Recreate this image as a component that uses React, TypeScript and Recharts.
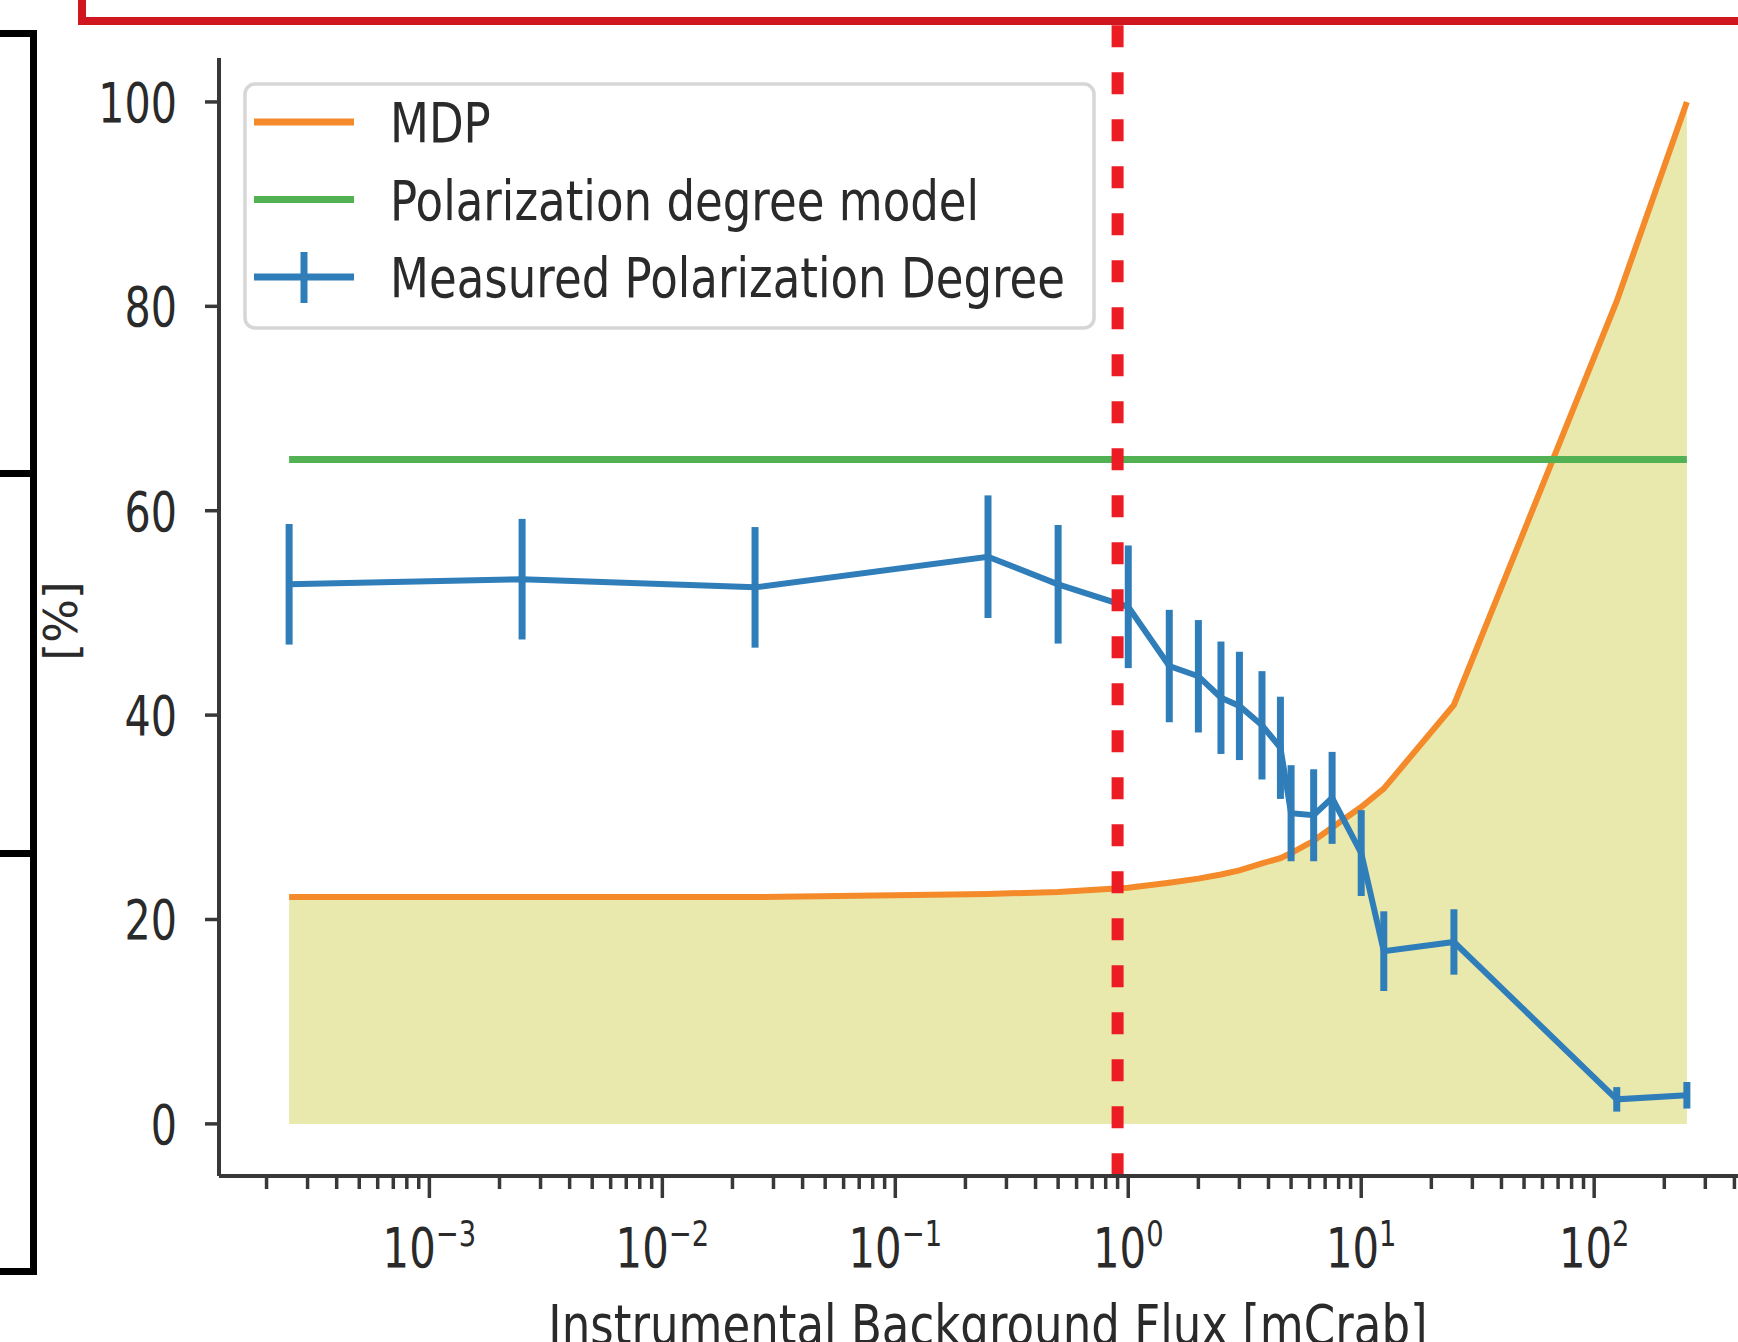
import { ComposedChart, Area, Line, XAxis, YAxis, ErrorBar, ReferenceLine, Legend } from 'recharts';

// flux values [mCrab] of the simulated points
const flux = [0.00025, 0.0025, 0.025, 0.25, 0.5, 1, 1.5, 2, 2.5, 3, 3.75, 4.5, 5, 6.25, 7.5, 10, 12.5, 25, 125, 250];
const mdp = [22.2, 22.2, 22.2, 22.5, 22.7, 23.1, 23.6, 24.0, 24.4, 24.8, 25.5, 26.0, 26.5, 27.7, 29.0, 31.0, 32.8, 41.0, 80.5, 100];
const modelPd = [65, 65, 65, 65, 65, 65, 65, 65, 65, 65, 65, 65, 65, 65, 65, 65, 65, 65, 65, 65];
const measPd = [52.8, 53.3, 52.5, 55.5, 52.8, 50.6, 44.8, 43.8, 41.7, 40.9, 39.0, 36.8, 30.4, 30.2, 31.9, 26.5, 16.9, 17.8, 2.4, 2.8];
const measErr = [5.9, 5.9, 5.9, 6.0, 5.8, 6.0, 5.5, 5.5, 5.5, 5.3, 5.3, 5.0, 4.7, 4.5, 4.5, 4.2, 3.9, 3.2, 1.2, 1.3];

const majorTicks = [0.001, 0.01, 0.1, 1, 10, 100];
const minorTicks = [
  0.0002, 0.0003, 0.0004, 0.0005, 0.0006, 0.0007, 0.0008, 0.0009,
  0.002, 0.003, 0.004, 0.005, 0.006, 0.007, 0.008, 0.009,
  0.02, 0.03, 0.04, 0.05, 0.06, 0.07, 0.08, 0.09,
  0.2, 0.3, 0.4, 0.5, 0.6, 0.7, 0.8, 0.9,
  2, 3, 4, 5, 6, 7, 8, 9,
  20, 30, 40, 50, 60, 70, 80, 90,
  200, 300, 400,
];
const yTicks = [0, 20, 40, 60, 80, 100];
const legendOrder = ['mdp', 'model', 'pd'];

// where the dashed marker sits
const markerFlux = 0.9;

const data = flux.map((f, i) => ({
  flux: f,
  mdp: mdp[i],
  model: modelPd[i],
  pd: measPd[i],
  err: measErr[i],
}));

const font = '"DejaVu Sans", sans-serif';
const axisColor = '#383838';
const textColor = '#2a2a2a';
const orange = '#f48a2a';
const green = '#52b152';
const blue = '#2f7db9';
const areaFill = '#e9e9ad';

const xDomain = [1.25e-4, 500];
const yDomain = [-5.1, 104.3];

const XTick = (props: any) => {
  const { x, y, payload } = props;
  const v = payload.value;
  const major = majorTicks.includes(v);
  const exp = Math.round(Math.log10(v));
  return (
    <g>
      <line x1={x} y1={y} x2={x} y2={y + (major ? 22 : 13)} stroke={axisColor} strokeWidth={3.5} />
      {major && (
        <text
          transform={`translate(${x},${y + 91}) scale(0.76,1)`}
          textAnchor="middle"
          fontSize={55}
          fill={textColor}
          fontFamily={font}
        >
          10
          <tspan fontSize={36} dy={-21}>
            {exp < 0 ? `\u2212${-exp}` : `${exp}`}
          </tspan>
        </text>
      )}
    </g>
  );
};

const YTick = (props: any) => {
  const { x, y, payload } = props;
  return (
    <text
      transform={`translate(${x},${y + 20}) scale(0.75,1)`}
      textAnchor="end"
      fontSize={55}
      fill={textColor}
      fontFamily={font}
    >
      {payload.value}
    </text>
  );
};

const YLabel = (props: any) => {
  const { viewBox } = props;
  const cy = viewBox.y + viewBox.height / 2 + 4;
  return (
    <text
      transform={`translate(${viewBox.x + 77},${cy}) rotate(-90)`}
      textAnchor="middle"
      fontSize={46}
      fill={textColor}
      fontFamily={font}
    >
      [%]
    </text>
  );
};

const XLabel = (props: any) => {
  const { viewBox } = props;
  return (
    <text
      transform={`translate(${viewBox.x + viewBox.width / 2},${viewBox.y + 168}) scale(0.82,1)`}
      textAnchor="middle"
      fontSize={55}
      fill={textColor}
      fontFamily={font}
    >
      Instrumental Background Flux [mCrab]
    </text>
  );
};

const LegendBox = (props: any) => {
  const items = (props.payload || [])
    .filter((it: any) => it.type !== 'none' && it.color !== areaFill && legendOrder.includes(it.dataKey))
    .sort((a: any, b: any) => legendOrder.indexOf(a.dataKey) - legendOrder.indexOf(b.dataKey));
  return (
    <svg width={860} height={270} style={{ display: 'block', overflow: 'visible' }}>
      <rect x={2} y={2} width={849} height={244} rx={10} fill="#fff" fillOpacity={0.8} stroke="#d6d6d6" strokeWidth={3.5} />
      {items.map((it: any, i: number) => {
        const cy = 40 + i * 77.5;
        return (
          <g key={it.value}>
            <line x1={11} y1={cy} x2={111} y2={cy} stroke={it.color} strokeWidth={7} />
            {it.dataKey === 'pd' && (
              <line x1={61} y1={cy - 25} x2={61} y2={cy + 26} stroke={it.color} strokeWidth={7} />
            )}
            <text
              transform={`translate(147,${cy + 20}) scale(0.82,1)`}
              fontSize={55}
              fill={textColor}
              fontFamily={font}
            >
              {it.value}
            </text>
          </g>
        );
      })}
    </svg>
  );
};

const App = () => {
  return (
    <div
      style={{
        position: 'fixed',
        left: 0,
        top: 0,
        width: 1738,
        height: 1342,
        overflow: 'hidden',
        background: '#fff',
      }}
    >
      <ComposedChart width={1800} height={1342} data={data} margin={{ top: 58, right: 43, bottom: 0, left: 0 }}>
        <XAxis
          dataKey="flux"
          type="number"
          scale="log"
          domain={xDomain}
          allowDataOverflow
          ticks={[...minorTicks, ...majorTicks]}
          interval={0}
          tick={<XTick />}
          tickLine={false}
          tickSize={0}
          tickMargin={0}
          height={166}
          axisLine={{ stroke: axisColor, strokeWidth: 4 }}
          label={<XLabel />}
        />
        <XAxis
          xAxisId="top"
          orientation="top"
          type="number"
          scale="log"
          domain={xDomain}
          allowDataOverflow
          height={0}
          tick={false}
          tickLine={false}
          axisLine={{ stroke: axisColor, strokeWidth: 4 }}
        />
        <YAxis
          type="number"
          domain={yDomain}
          allowDataOverflow
          ticks={yTicks}
          interval={0}
          width={219}
          tickSize={14}
          tickMargin={28}
          tick={<YTick />}
          tickLine={{ stroke: axisColor, strokeWidth: 3.5 }}
          axisLine={{ stroke: axisColor, strokeWidth: 4 }}
          label={<YLabel />}
        />
        <Legend
          layout="horizontal"
          verticalAlign="middle"
          align="center"
          content={<LegendBox />}
          wrapperStyle={{ left: 243, top: 82, width: 860, height: 270 }}
        />
        <Area
          type="linear"
          dataKey="mdp"
          baseValue={0}
          stroke="none"
          fill={areaFill}
          fillOpacity={1}
          legendType="none"
          dot={false}
          activeDot={false}
          isAnimationActive={false}
        />
        <Line
          type="linear"
          dataKey="mdp"
          name="MDP"
          stroke={orange}
          strokeWidth={6}
          dot={false}
          activeDot={false}
          isAnimationActive={false}
        />
        <Line
          type="linear"
          dataKey="model"
          name="Polarization degree model"
          stroke={green}
          strokeWidth={7}
          dot={false}
          activeDot={false}
          isAnimationActive={false}
        />
        <Line
          type="linear"
          dataKey="pd"
          name="Measured Polarization Degree"
          stroke={blue}
          strokeWidth={6}
          dot={false}
          activeDot={false}
          isAnimationActive={false}
        >
          <ErrorBar dataKey="err" direction="y" width={0} stroke={blue} strokeWidth={7} isAnimationActive={false} />
        </Line>
        <ReferenceLine
          segment={[
            { x: markerFlux, y: 107.5 },
            { x: markerFlux, y: -5.5 },
          ]}
          ifOverflow="visible"
          stroke="#ec1c24"
          strokeWidth={12}
          strokeDasharray="22 25"
        />
      </ComposedChart>
      {/* red frame cut at the top */}
      <div
        style={{
          position: 'absolute',
          left: 78,
          top: -30,
          width: 2000,
          height: 55,
          border: '8px solid #d0161f',
          boxSizing: 'border-box',
        }}
      />
      {/* black table edges on the left */}
      {[
        [30, 477],
        [470, 857],
        [850, 1275],
      ].map(([t, b]) => (
        <div
          key={t}
          style={{
            position: 'absolute',
            left: -10,
            top: t,
            width: 47,
            height: b - t,
            borderTop: '7px solid #000',
            borderRight: '7px solid #000',
            borderBottom: '7px solid #000',
            boxSizing: 'border-box',
          }}
        />
      ))}
    </div>
  );
};

export default App;
